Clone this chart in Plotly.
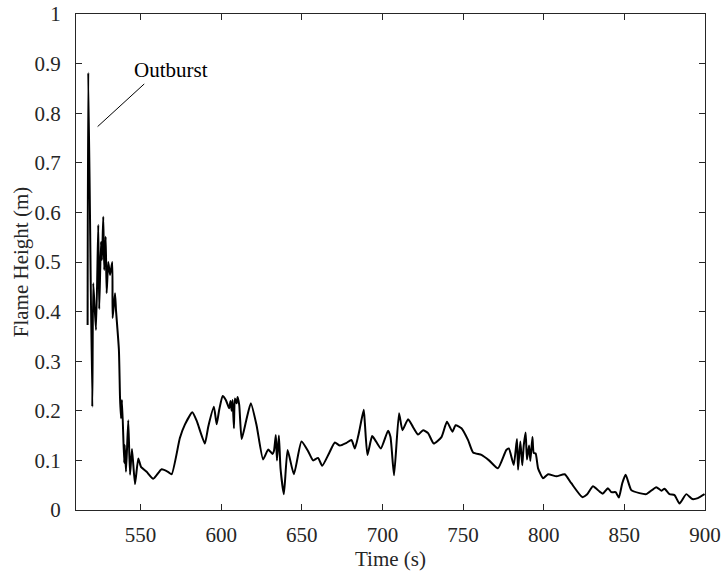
import plotly.graph_objects as go

time_s = [517.2, 517.6, 520.1, 520.7, 522.4, 523.8, 524.4, 525.5, 526.1, 526.9, 527.5, 528.4, 529.0,
          530.0, 531.1, 532.5, 532.7, 534.2, 534.8, 536.6, 537.3, 537.9, 538.5, 539.9, 540.2, 541.0,
          542.4, 543.5, 544.7, 546.6, 548.6, 550.3, 553.8, 557.9, 563.1, 567.0, 569.3, 574.4, 577.5,
          582.1, 584.8, 589.9, 592.0, 595.5, 597.2, 598.8, 600.9, 602.9, 605.0, 605.8, 606.5, 607.1,
          607.9, 608.5, 609.6, 610.2, 611.2, 612.7, 615.5, 618.4, 622.0, 626.0, 629.2, 631.8, 632.8,
          633.9, 634.6, 635.8, 636.8, 638.9, 641.2, 645.1, 649.8, 654.0, 657.0, 660.1, 662.6, 667.0,
          670.5, 673.6, 677.5, 680.8, 682.9, 684.9, 686.0, 688.4, 689.1, 690.7, 693.6, 695.3, 699.0,
          703.5, 705.0, 707.2, 710.3, 712.4, 715.9, 719.0, 722.1, 725.2, 728.3, 731.8, 736.6, 740.0,
          743.4, 745.4, 749.0, 753.1, 756.2, 761.4, 766.1, 771.6, 776.8, 778.4, 781.4, 783.4, 784.1,
          785.5, 786.7, 787.6, 788.8, 789.6, 790.9, 791.7, 793.0, 793.8, 795.0, 796.5, 799.6, 802.7,
          807.9, 813.0, 817.1, 823.9, 826.8, 830.5, 834.7, 836.7, 839.8, 841.9, 844.6, 846.6, 848.7,
          850.8, 854.3, 859.4, 863.6, 869.8, 872.9, 874.9, 878.0, 881.1, 884.2, 888.4, 892.1, 895.6,
          899.7]
flame_h = [0.373, 0.882, 0.208, 0.457, 0.363, 0.575, 0.405, 0.541, 0.504, 0.591, 0.484, 0.551, 0.437,
           0.500, 0.474, 0.500, 0.387, 0.437, 0.403, 0.323, 0.226, 0.185, 0.222, 0.095, 0.131, 0.077,
           0.181, 0.071, 0.123, 0.052, 0.104, 0.087, 0.077, 0.063, 0.082, 0.077, 0.072, 0.145, 0.172,
           0.197, 0.180, 0.134, 0.168, 0.208, 0.173, 0.202, 0.230, 0.222, 0.205, 0.220, 0.200, 0.222,
           0.165, 0.225, 0.215, 0.228, 0.212, 0.143, 0.180, 0.215, 0.170, 0.102, 0.122, 0.113, 0.120,
           0.151, 0.100, 0.150, 0.084, 0.032, 0.121, 0.072, 0.138, 0.118, 0.100, 0.105, 0.089, 0.115,
           0.136, 0.130, 0.135, 0.141, 0.124, 0.148, 0.165, 0.202, 0.175, 0.111, 0.149, 0.142, 0.124,
           0.160, 0.147, 0.070, 0.195, 0.161, 0.183, 0.167, 0.152, 0.161, 0.155, 0.134, 0.147, 0.178,
           0.158, 0.171, 0.165, 0.141, 0.116, 0.111, 0.100, 0.084, 0.121, 0.124, 0.091, 0.143, 0.081,
           0.138, 0.090, 0.130, 0.156, 0.102, 0.130, 0.099, 0.147, 0.115, 0.114, 0.084, 0.064, 0.072,
           0.068, 0.072, 0.054, 0.026, 0.031, 0.048, 0.037, 0.033, 0.044, 0.036, 0.036, 0.025, 0.054,
           0.071, 0.040, 0.034, 0.032, 0.046, 0.039, 0.043, 0.032, 0.030, 0.013, 0.032, 0.022, 0.024,
           0.032]

x_ticks = [550, 600, 650, 700, 750, 800, 850, 900]
y_ticks = [0, 0.1, 0.2, 0.3, 0.4, 0.5, 0.6, 0.7, 0.8, 0.9, 1]

FONT = "Liberation Serif"
AX = "#262626"

fig = go.Figure()
fig.add_trace(go.Scatter(x=time_s, y=flame_h, mode="lines",
                         line=dict(color="black", width=2, shape="spline", smoothing=0.5),
                         showlegend=False))

fig.add_shape(type="line", xref="x", yref="y", x0=523.4, y0=0.773, x1=552.3, y1=0.859,
              line=dict(color="black", width=1))
fig.add_annotation(x=544.5, y=0.887, xref="x", yref="y", text="Outburst", showarrow=False,
                   xanchor="left", yanchor="middle", font=dict(family=FONT, size=21, color="black"))

axis_common = dict(showline=True, linecolor=AX, linewidth=1, mirror="ticks", ticks="inside",
                   ticklen=6, tickcolor=AX, showgrid=False, zeroline=False, automargin=False,
                   tickfont=dict(family=FONT, size=21, color=AX),
                   title_font=dict(family=FONT, size=21, color=AX))

fig.update_xaxes(range=[510, 900], tickvals=x_ticks, title_text="Time (s)",
                 title_standoff=0, ticklabelstandoff=6, **axis_common)
fig.update_yaxes(range=[0, 1], tickvals=y_ticks, title_text="Flame Height (m)",
                 title_standoff=0, ticklabelstandoff=10, **axis_common)

fig.update_layout(width=723, height=573, margin=dict(l=76, r=18, t=14, b=63),
                  plot_bgcolor="white", paper_bgcolor="white",
                  font=dict(family=FONT, size=21, color=AX))

fig.write_html("out.html")
